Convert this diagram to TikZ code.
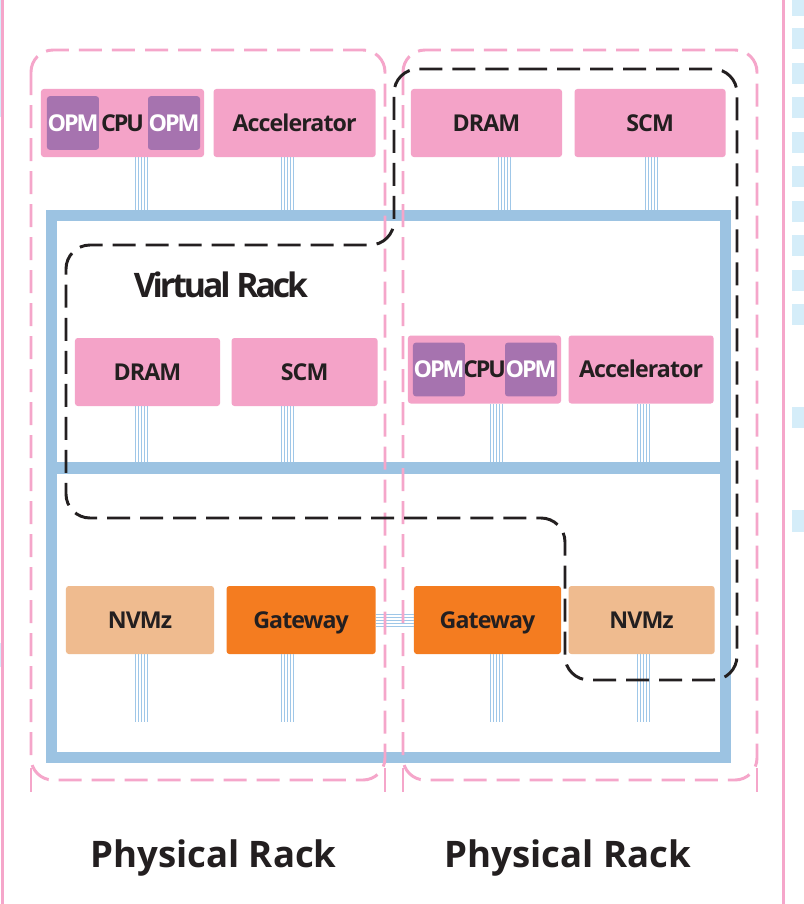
\documentclass[tikz,border=0pt]{standalone}
\usepackage{fontspec}
\setmainfont{Open Sans}
\usepackage{xcolor}
\usetikzlibrary{positioning}

\definecolor{boxpink}{HTML}{F4A3C8}
\definecolor{rackpink}{HTML}{F5A6CA}
\definecolor{opmpurple}{HTML}{A673AF}
\definecolor{nvmpeach}{HTML}{EFBB8F}
\definecolor{gateorange}{HTML}{F47C20}
\definecolor{busblue}{HTML}{9CC3E2}
\definecolor{linkblue}{HTML}{9FC7E8}
\definecolor{sqblue}{HTML}{D5EDF9}
\definecolor{ink}{HTML}{231F20}

\newcommand\labelfont{\fontsize{16.5}{18}\selectfont\bfseries\addfontfeatures{LetterSpace=-4}}
\newcommand\opmfont{\fontsize{16.5}{17}\selectfont\bfseries\addfontfeatures{LetterSpace=-9}}
\newcommand\vrfont{\fontsize{24}{25}\selectfont\bfseries\addfontfeatures{LetterSpace=-9}}
\newcommand\prfont{\fontsize{26}{28}\selectfont\bfseries}

\begin{document}
\begin{tikzpicture}[
  x=0.025cm, y=-0.025cm,
  comp/.style  = {rounded corners=2pt, inner sep=0pt, minimum height=1.7cm,
                  font=\labelfont, text=ink, text height=11.8pt, text depth=0pt},
  pbox/.style  = {comp, fill=boxpink},
  nbox/.style  = {comp, fill=nvmpeach},
  gbox/.style  = {comp, fill=gateorange},
  opm/.style   = {rounded corners=2pt, fill=opmpurple, text=white, inner sep=0pt,
                  minimum width=1.3cm, minimum height=1.34cm, font=\opmfont,
                  text height=11.8pt, text depth=0pt},
  bus/.style   = {draw=busblue, line width=7.8pt},
  link/.style  = {draw=linkblue, line width=0.45pt},
  prack/.style = {draw=rackpink, line width=2.1pt, dash pattern=on 0.575cm off 0.25cm,
                  rounded corners=0.55cm},
  vrack/.style = {draw=ink, line width=2.1pt, dash pattern=on 0.575cm off 0.25cm,
                  rounded corners=0.6cm},
]
\useasboundingbox (0,0) rectangle (804,904);
\fill[white] (0,0) rectangle (804,904);

% page edges
\fill[sqblue] (0,0) rectangle (1.5,117);
\fill[sqblue] (0,643) rectangle (1.5,667);
\draw[rackpink, line width=1.8pt] (2.5,0) -- (2.5,904);
\draw[rackpink, line width=1.8pt] (783.5,0) -- (783.5,904);
\fill[sqblue] (792,0) rectangle (804,16);
\foreach \k in {0,...,8}
  \fill[sqblue] (792,{28+34.5*\k}) rectangle (804,{49+34.5*\k});
\fill[sqblue] (792,407) rectangle (804,428);
\fill[sqblue] (792,510) rectangle (804,532);

% top row
\node[pbox, minimum width=4.075cm, font=\opmfont] (cpuA) at (122.5,123) {CPU};
\node[pbox, minimum width=4.05cm, right=0.225cm of cpuA] (accA) {Accelerator};
\node[pbox, minimum width=3.775cm] (dramA) at (486.5,123) {DRAM};
\node[pbox, minimum width=3.775cm, right=0.3cm of dramA] (scmA) {SCM};
\node[opm, anchor=west] (opmA1) at ([xshift=0.15cm]cpuA.west) {OPM};
\node[opm, anchor=east] (opmA2) at ([xshift=-0.1cm]cpuA.east) {OPM};

% middle row
\node[pbox, minimum width=3.625cm] (dramB) at (147.5,372) {DRAM};
\node[pbox, minimum width=3.65cm, right=0.275cm of dramB] (scmB) {SCM};
\node[pbox, minimum width=3.825cm, font=\opmfont] (cpuB) at (484.5,369.5) {CPU};
\node[pbox, minimum width=3.625cm, right=0.175cm of cpuB] (accB) {Accelerator};
\node[opm, anchor=west] (opmB1) at ([xshift=0.125cm]cpuB.west) {OPM};
\node[opm, anchor=east] (opmB2) at ([xshift=-0.1cm]cpuB.east) {OPM};

% bottom row
\node[nbox, minimum width=3.7cm] (nvmA) at (140,620) {NVMz};
\node[gbox, minimum width=3.725cm, right=0.3cm of nvmA] (gateA) {Gateway};
\node[gbox, minimum width=3.675cm] (gateB) at (487.5,620) {Gateway};
\node[nbox, minimum width=3.65cm, right=0.175cm of gateB] (nvmB) {NVMz};

% rack network
\node[bus, minimum width=16.8375cm, minimum height=13.55cm, inner sep=0pt]
  (bus) at (388.25,486.5) {};
\coordinate (midbar) at (0,462);
\coordinate (lowend) at (0,722);

% links
\foreach \b/\x in {cpuA/141, accA/287, dramA/504, scmA/651}
  \foreach \d in {-6,-3,0,3,6} {
    \pgfmathsetmacro\lx{\x+\d}
    \draw[link] (\b.south -| \lx,0) -- (\lx,0 |- bus.north);
  }
\foreach \b/\x in {dramB/141, scmB/287, cpuB/496, accB/643}
  \foreach \d in {-6,-3,0,3,6} {
    \pgfmathsetmacro\lx{\x+\d}
    \draw[link] (\b.south -| \lx,0) -- (\lx,0 |- midbar);
  }
\foreach \b/\x in {nvmA/141, gateA/287, gateB/496, nvmB/643}
  \foreach \d in {-6,-3,0,3,6} {
    \pgfmathsetmacro\lx{\x+\d}
    \draw[link] (\b.south -| \lx,0) -- (\lx,0 |- lowend);
  }
\foreach \d in {-6,-3,0,3,6}
  \draw[link] ([yshift=\d*0.025cm]gateA.east) -- ([yshift=\d*0.025cm]gateB.west);

\draw[bus, line width=8.5pt] (bus.west |- 0,468) -- (bus.east |- 0,468);

% physical racks
\draw[prack] (31,50) rectangle (385,780);
\draw[prack] (403,50) rectangle (757,780);
\foreach \x in {31,385,403,757}
  \draw[rackpink, line width=2.1pt] (\x,768) -- (\x,792);

% virtual rack
\draw[vrack] (500,69) -- (737,69) -- (737,680) -- (565,680) -- (565,518)
  -- (66,518) -- (66,245) -- (394,245) -- (394,69) -- cycle;

% labels
\node[font=\vrfont, text=ink] (vlabel) at (221,285) {Virtual Rack};
\node[font=\prfont, text=ink, anchor=base] (prA) at (213.5,867) {Physical Rack};
\node[font=\prfont, text=ink, anchor=base] (prB) at (568,867) {Physical Rack};
\end{tikzpicture}
\end{document}
